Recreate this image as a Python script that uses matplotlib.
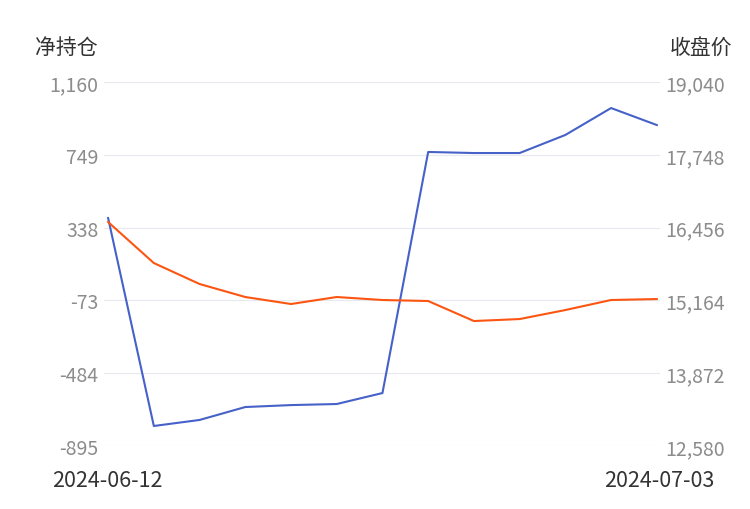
import numpy as np
import matplotlib.pyplot as plt

plt.rcParams['font.family'] = ['Noto Sans CJK SC', 'DejaVu Sans']

# 净持仓 (左轴) 与 收盘价 (右轴)
net_pos = [392, -782, -748, -675, -664, -658, -596, 765, 759, 759, 861, 1013, 917]
close = [16555, 15827, 15455, 15224, 15100, 15224, 15171, 15153, 14798, 14833, 14993, 15171, 15188]
left_ticks = [-895, -484, -73, 338, 749, 1160]
right_ticks = [12580, 13872, 15164, 16456, 17748, 19040]
date_start, date_end = "2024-06-12", "2024-07-03"

x = np.arange(len(net_pos))

fig = plt.figure(figsize=(7.5, 5.1), dpi=100)
ax1 = fig.add_axes([104/750, 63/510, 556/750, 364/510])
ax2 = ax1.twinx()

ax1.plot(x, net_pos, color='#4661c8', linewidth=1.5, zorder=3)
ax2.plot(x, close, color='#fc5511', linewidth=1.5, zorder=3)

ax1.set_xlim(-0.09, 12.07)
ax1.set_ylim(left_ticks[0], left_ticks[-1])
ax2.set_ylim(right_ticks[0], right_ticks[-1])
ax1.set_yticks(left_ticks)
ax1.set_yticklabels([f"{v:,}" for v in left_ticks])
ax2.set_yticks(right_ticks)
ax2.set_yticklabels([f"{v:,}" for v in right_ticks])
ax1.grid(axis='y', color='#e6e9ef', linewidth=0.8)
ax1.set_xticks([])

for ax in (ax1, ax2):
    for s in ax.spines.values():
        s.set_visible(False)
    ax.tick_params(axis='y', length=0, labelsize=14, labelcolor='#8c8c8c', pad=4)

fig.text(35/750, 1-48/510, "净持仓", fontsize=15, color='#333333', va='center')
fig.text(732/750, 1-48/510, "收盘价", fontsize=15, color='#333333', va='center', ha='right')
fig.text(52/750, 1-481/510, date_start, fontsize=15.5, color='#333333', va='center')
fig.text(714/750, 1-481/510, date_end, fontsize=15.5, color='#333333', va='center', ha='right')

fig.savefig("out.png", dpi=100)
